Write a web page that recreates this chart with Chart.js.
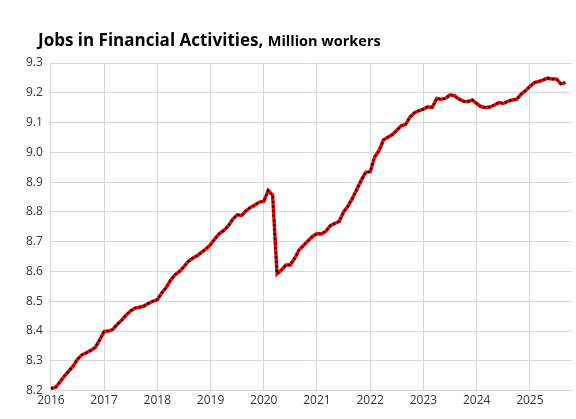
<!DOCTYPE html>
<html><head><meta charset="utf-8">
<script src="https://cdn.jsdelivr.net/npm/chart.js@4"></script>
<style>html,body{margin:0;padding:0;background:#fff}#w{position:relative;width:576px;height:419px}
#t{position:absolute;left:38px;top:28px;font-family:"Open Sans","Liberation Sans",sans-serif;font-weight:bold;font-size:17px;color:#000;white-space:nowrap}
#t span{font-size:14.5px}</style></head>
<body><div id="w"><div id="t">Jobs in Financial Activities, <span>Million workers</span></div><canvas id="c" width="576" height="419"></canvas></div>
<script>
const startYear = 2016;
const yearLabels = ['2016','2017','2018','2019','2020','2021','2022','2023','2024','2025'];
const jobs = [
8.208,8.21,8.228,8.248,8.265,8.282,8.305,8.32,8.327,8.335,8.345,8.37,
8.398,8.40,8.406,8.423,8.437,8.454,8.468,8.477,8.48,8.484,8.493,8.50,
8.505,8.528,8.546,8.571,8.589,8.60,8.616,8.634,8.645,8.653,8.665,8.676,
8.69,8.71,8.727,8.738,8.753,8.775,8.79,8.788,8.804,8.815,8.823,8.833,
8.835,8.872,8.856,8.592,8.605,8.622,8.622,8.645,8.673,8.688,8.703,8.718,
8.727,8.726,8.735,8.754,8.761,8.768,8.80,8.82,8.846,8.876,8.907,8.933,
8.935,8.984,9.006,9.042,9.051,9.06,9.074,9.089,9.094,9.119,9.133,9.14,
9.145,9.153,9.151,9.181,9.178,9.181,9.193,9.19,9.179,9.172,9.17,9.176,
9.164,9.153,9.151,9.152,9.159,9.167,9.164,9.171,9.176,9.178,9.195,9.207,
9.221,9.234,9.238,9.243,9.249,9.246,9.246,9.23,9.234
];
const yTicks = [8.2,8.3,8.4,8.5,8.6,8.7,8.8,8.9,9.0,9.1,9.2,9.3];
const pts = jobs.map((v,i)=>({x:i,y:v}));
const font = {family:'"Open Sans","Liberation Sans",sans-serif', size:12};
new Chart(document.getElementById('c'),{
 type:'line',
 data:{datasets:[
  {data:pts,borderColor:'#000',borderWidth:2.2,borderDash:[2,2.6],pointRadius:0,tension:0,order:0},
  {data:pts,borderColor:'#ff0000',borderWidth:3.5,pointRadius:0,tension:0,order:1}
 ]},
 options:{responsive:false,animation:false,
  layout:{padding:{top:63,right:4,left:18,bottom:8}},
  plugins:{legend:{display:false},tooltip:{enabled:false}},
  scales:{
   x:{type:'linear',min:0,max:117.5,
     afterBuildTicks:ax=>{ax.ticks=yearLabels.map((l,i)=>({value:i*12}));},
     ticks:{autoSkip:false,maxRotation:0,color:'#333',font,callback:(v)=>yearLabels[Math.round(v/12)]||''},
     grid:{color:'#d9d9d9',drawTicks:false},border:{color:'#d9d9d9'}},
   y:{type:'linear',min:8.2,max:9.3,
     afterBuildTicks:ax=>{ax.ticks=yTicks.map(v=>({value:v}));},
     ticks:{color:'#333',font,padding:8,callback:v=>v.toFixed(1)},
     grid:{color:'#d9d9d9',drawTicks:false},border:{display:false}}
  }}
});
</script></body></html>
